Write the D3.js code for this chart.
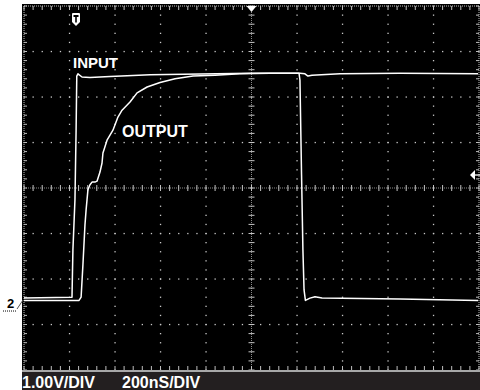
<!DOCTYPE html>
<html>
<head>
<meta charset="utf-8">
<script src="https://cdn.jsdelivr.net/npm/d3@7"></script>
<style>
  html, body { margin: 0; padding: 0; background: #fff; }
  svg { display: block; }
</style>
</head>
<body>
<svg id="scope" width="480" height="390"></svg>
<script>
// Channel 1: input pulse (time in ns, level in volts)
const inputTime  = [0, 211, 215, 224, 229, 232, 237, 255, 290, 378, 554, 993, 1209, 1213, 1220, 1226, 1231, 1237, 1257, 1279, 1310, 1653, 1996];
const inputVolts = [0.02, 0.04, 1.08, 2.18, 3.71, 4.90, 4.95, 4.88, 4.87, 4.89, 4.93, 4.96, 4.96, 4.81, 2.73, 1.08, 0.20, -0.03, 0.02, 0.05, 0.02, 0.00, -0.03];

// Channel 2: output response
const outputTime  = [0, 242, 251, 259, 268, 273, 277, 281, 290, 299, 312, 321, 334, 343, 347, 365, 378, 391, 413, 431, 466, 497, 541, 598, 664, 743, 840, 949, 1081, 1213, 1235, 1248, 1266, 1389, 1653, 1996];
const outputVolts = [-0.03, -0.03, 0.04, 0.75, 1.63, 1.96, 2.18, 2.40, 2.51, 2.57, 2.57, 2.59, 2.79, 2.99, 3.21, 3.49, 3.60, 3.71, 4.00, 4.15, 4.33, 4.53, 4.66, 4.76, 4.84, 4.90, 4.92, 4.95, 4.96, 4.96, 4.95, 4.90, 4.92, 4.95, 4.96, 4.95];

const traceLabels = ["INPUT", "OUTPUT"];
const scaleLabels = ["1.00V/DIV", "200nS/DIV"];
const groundMarker = "2";

const timeSpan = [0, 2000];      // 10 div x 200 ns
const voltSpan = [-1.56, 6.44];  // 8 div x 1 V
const divX = 10, divY = 8, minorPerDiv = 5;

const svg = d3.select("#scope");
const area = { left: 24, right: 479, top: 6, bottom: 370 };

const x = d3.scaleLinear().domain(timeSpan).range([area.left, area.right]);
const y = d3.scaleLinear().domain(voltSpan).range([area.bottom, area.top]);
const gx = d3.scaleLinear().domain([0, divX]).range([area.left, area.right]);
const gy = d3.scaleLinear().domain([0, divY]).range([area.top, area.bottom]);

// screen background
svg.append("rect").attr("x", 22).attr("y", 4).attr("width", 458).attr("height", 368).attr("fill", "#000");

const grid = svg.append("g");
const minorX = d3.range(0, divX * minorPerDiv + 1).map(i => i / minorPerDiv);
const minorY = d3.range(0, divY * minorPerDiv + 1).map(i => i / minorPerDiv);

// regular dotted graticule
d3.range(1, divX).filter(i => i !== divX / 2).forEach(i => {
  grid.selectAll(null).data(minorY).enter().append("rect")
    .attr("x", gx(i) - 0.6).attr("y", d => gy(d) - 0.6)
    .attr("width", 1.3).attr("height", 1.3).attr("fill", "#c8c8c8");
});
d3.range(1, divY).filter(k => k !== divY / 2).forEach(k => {
  grid.selectAll(null).data(minorX).enter().append("rect")
    .attr("x", d => gx(d) - 0.6).attr("y", gy(k) - 0.6)
    .attr("width", 1.3).attr("height", 1.3).attr("fill", "#c8c8c8");
});

// centre cross with fine dots and minor ticks
const cx = gx(divX / 2), cy = gy(divY / 2);
grid.append("line").attr("x1", cx).attr("x2", cx).attr("y1", area.top).attr("y2", area.bottom)
  .attr("stroke", "#8a8a8a").attr("stroke-width", 1).attr("stroke-dasharray", "1,1");
grid.append("line").attr("x1", area.left).attr("x2", area.right).attr("y1", cy).attr("y2", cy)
  .attr("stroke", "#8a8a8a").attr("stroke-width", 1).attr("stroke-dasharray", "1,1");
grid.selectAll(null).data(minorY).enter().append("line")
  .attr("x1", cx - 3).attr("x2", cx + 3).attr("y1", d => gy(d)).attr("y2", d => gy(d))
  .attr("stroke", "#c4c4c4").attr("stroke-width", 1);
grid.selectAll(null).data(minorX).enter().append("line")
  .attr("x1", d => gx(d)).attr("x2", d => gx(d)).attr("y1", cy - 3).attr("y2", cy + 3)
  .attr("stroke", "#c4c4c4").attr("stroke-width", 1);

// border with inward ticks
const border = [
  { x1: area.left, y1: area.top, x2: area.left, y2: area.bottom },
  { x1: area.right, y1: area.top, x2: area.right, y2: area.bottom },
  { x1: area.left, y1: area.top, x2: area.right, y2: area.top }
];
grid.selectAll(null).data(border).enter().append("line")
  .attr("x1", d => d.x1).attr("y1", d => d.y1).attr("x2", d => d.x2).attr("y2", d => d.y2)
  .attr("stroke", "#bfbfbf").attr("stroke-width", 1).attr("stroke-dasharray", "1,1");
grid.selectAll(null).data(minorY).enter().append("line")
  .attr("x1", area.left).attr("x2", area.left + 3).attr("y1", d => gy(d)).attr("y2", d => gy(d))
  .attr("stroke", "#bfbfbf");
grid.selectAll(null).data(minorY).enter().append("line")
  .attr("x1", area.right - 3).attr("x2", area.right).attr("y1", d => gy(d)).attr("y2", d => gy(d))
  .attr("stroke", "#bfbfbf");
grid.selectAll(null).data(minorX).enter().append("line")
  .attr("x1", d => gx(d)).attr("x2", d => gx(d)).attr("y1", area.top).attr("y2", area.top + 4)
  .attr("stroke", "#bfbfbf");
grid.selectAll(null).data(minorX).enter().append("line")
  .attr("x1", d => gx(d)).attr("x2", d => gx(d)).attr("y1", area.bottom - 4).attr("y2", area.bottom)
  .attr("stroke", "#bfbfbf");

// status bar
svg.append("rect").attr("x", 22).attr("y", 370).attr("width", 458).attr("height", 2).attr("fill", "#a8a8a8");
svg.append("rect").attr("x", 22).attr("y", 372).attr("width", 458).attr("height", 18).attr("fill", "#231f20");
svg.selectAll(null).data(scaleLabels).enter().append("text")
  .attr("x", (d, i) => i === 0 ? 22 : 122).attr("y", 388)
  .attr("fill", "#fff").attr("font-family", "Liberation Sans, Arial, sans-serif")
  .attr("font-weight", "bold").attr("font-size", 16).text(d => d);

// traces
const line = d3.line().x(d => x(d[0])).y(d => y(d[1]));
const inputPts = inputTime.map((t, i) => [t, inputVolts[i]]);
const outputPts = outputTime.map((t, i) => [t, outputVolts[i]]);
[inputPts, outputPts].forEach(pts => {
  svg.append("path").attr("d", line(pts)).attr("fill", "none")
    .attr("stroke", "#fff").attr("stroke-width", 1.5).attr("stroke-linejoin", "round");
});

// trace labels
svg.selectAll(null).data(traceLabels).enter().append("text")
  .attr("x", (d, i) => i === 0 ? 73 : 122).attr("y", (d, i) => i === 0 ? 68 : 137)
  .attr("fill", "#fff").attr("font-family", "Liberation Sans, Arial, sans-serif")
  .attr("font-weight", "bold").attr("font-size", (d, i) => i === 0 ? 15 : 16).text(d => d);

// trigger badge
svg.append("path").attr("d", "M72,14 Q72,13 73,13 H79 Q80,13 80,14 V22 L76,26 L72,22 Z").attr("fill", "#fff");
svg.append("rect").attr("x", 73.5).attr("y", 15).attr("width", 5).attr("height", 2).attr("fill", "#000");
svg.append("rect").attr("x", 75.2).attr("y", 15).attr("width", 1.6).attr("height", 7.5).attr("fill", "#000");

// trigger position marker
svg.append("path").attr("d", `M${cx - 5},6 L${cx + 5},6 L${cx},12 Z`).attr("fill", "#fff");

// trigger level arrow
svg.append("path").attr("d", "M470,175 L475,170 L475,180 Z").attr("fill", "#fff");
svg.append("line").attr("x1", 475).attr("x2", 480).attr("y1", 175).attr("y2", 175).attr("stroke", "#fff").attr("stroke-width", 1.3);

// ground reference marker
const gY = y(0);
svg.append("text").attr("x", 7).attr("y", gY + 9).attr("font-family", "Liberation Sans, Arial, sans-serif")
  .attr("font-size", 13).attr("font-weight", "bold").attr("fill", "#000").text(groundMarker);
svg.append("line").attr("x1", 3).attr("x2", 17).attr("y1", gY + 12).attr("y2", gY + 12)
  .attr("stroke", "#000").attr("stroke-width", 1).attr("stroke-dasharray", "1,1");
svg.append("line").attr("x1", 17).attr("x2", 23).attr("y1", gY + 10).attr("y2", gY + 1)
  .attr("stroke", "#555").attr("stroke-width", 1);
</script>
</body>
</html>
